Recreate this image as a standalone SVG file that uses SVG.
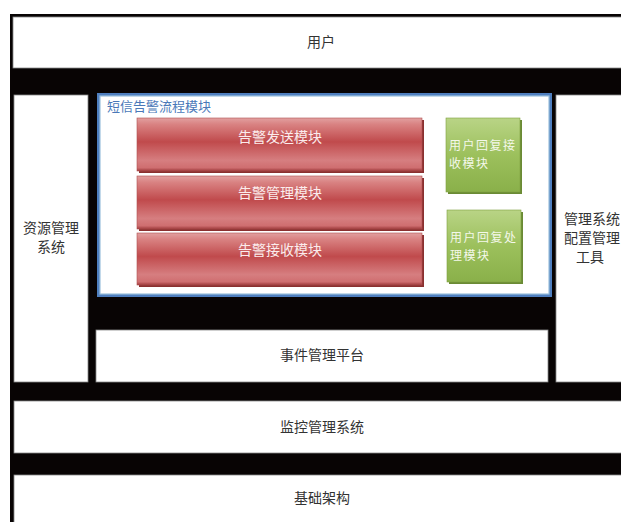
<svg xmlns="http://www.w3.org/2000/svg" width="621" height="522" viewBox="0 0 621 522">
<defs>
<linearGradient id="red" x1="0" y1="0" x2="0" y2="1">
<stop offset="0" stop-color="#e2a0a0"/>
<stop offset="0.12" stop-color="#d98282"/>
<stop offset="0.45" stop-color="#c04a4c"/>
<stop offset="0.8" stop-color="#d67e80"/>
<stop offset="0.94" stop-color="#cf6e70"/>
<stop offset="1" stop-color="#9e3a3c"/>
</linearGradient>
<linearGradient id="green" x1="0" y1="0" x2="0" y2="1">
<stop offset="0" stop-color="#b9d486"/>
<stop offset="0.5" stop-color="#9cc05c"/>
<stop offset="1" stop-color="#8ab04a"/>
</linearGradient>
<style>
.w{fill:#fff;stroke:#888;stroke-width:0.8}
.t{font-family:"Noto Sans CJK SC","Noto Sans",sans-serif;font-size:14px;fill:#333;text-anchor:middle}
.rb{fill:url(#red);stroke:#b05050;stroke-width:0.6}
.gb{fill:url(#green);stroke:#7fa040;stroke-width:0.6}
.rt{font-family:"Noto Sans CJK SC",sans-serif;font-size:14px;fill:#fbecec;text-anchor:middle}
.gt{font-family:"Noto Sans CJK SC",sans-serif;font-size:12px;letter-spacing:1.5px;fill:#f4f8ea}
</style>
</defs>
<rect width="621" height="522" fill="#fff"/>
<rect x="10" y="14" width="620" height="520" fill="#080404"/>
<g id="user"><rect class="w" x="13" y="17" width="620" height="51"/><text class="t" x="321" y="47">用户</text></g>
<g id="resource"><rect class="w" x="14" y="95" width="74" height="287"/><text class="t" x="51" y="233">资源管理</text><text class="t" x="51" y="252">系统</text></g>
<g id="config"><rect class="w" x="556" y="95" width="70" height="287"/><text class="t" x="592" y="224">管理系统</text><text class="t" x="592" y="243">配置管理</text><text class="t" x="590" y="262">工具</text></g>
<g id="sms">
<rect x="97" y="93" width="455" height="204" fill="#4f7fbf"/>
<rect x="100" y="96" width="449" height="198" fill="#fff" stroke="#9cc0dd" stroke-width="1.2"/>
<text x="107" y="111" font-family="Noto Sans CJK SC,sans-serif" font-size="13" fill="#4a78b8">短信告警流程模块</text>
</g>
<g id="send"><rect x="139" y="120" width="285" height="53" fill="#8a3030"/><rect class="rb" x="137" y="118" width="285" height="53"/><text class="rt" x="280" y="142">告警发送模块</text></g>
<g id="manage"><rect x="139" y="178" width="285" height="53" fill="#8a3030"/><rect class="rb" x="137" y="176" width="285" height="53"/><text class="rt" x="280" y="198">告警管理模块</text></g>
<g id="recv"><rect x="139" y="235" width="285" height="52" fill="#8a3030"/><rect class="rb" x="137" y="233" width="285" height="52"/><text class="rt" x="280" y="255">告警接收模块</text></g>
<g id="replyRecv"><rect x="448" y="120" width="74" height="74" fill="#6a8a35"/><rect class="gb" x="446" y="118" width="74" height="74"/><text class="gt" x="449" y="150">用户回复接</text><text class="gt" x="449" y="168">收模块</text></g>
<g id="replyProc"><rect x="449" y="212" width="74" height="72" fill="#6a8a35"/><rect class="gb" x="447" y="210" width="74" height="72"/><text class="gt" x="450" y="242">用户回复处</text><text class="gt" x="450" y="260">理模块</text></g>
<g id="event"><rect class="w" x="96" y="330" width="452" height="52"/><text class="t" x="322" y="360">事件管理平台</text></g>
<g id="monitor"><rect class="w" x="14" y="401" width="620" height="52"/><text class="t" x="322" y="432">监控管理系统</text></g>
<g id="infra"><rect class="w" x="14" y="475" width="620" height="60"/><text class="t" x="322" y="503">基础架构</text></g>
<g id="connectors"/>
</svg>
